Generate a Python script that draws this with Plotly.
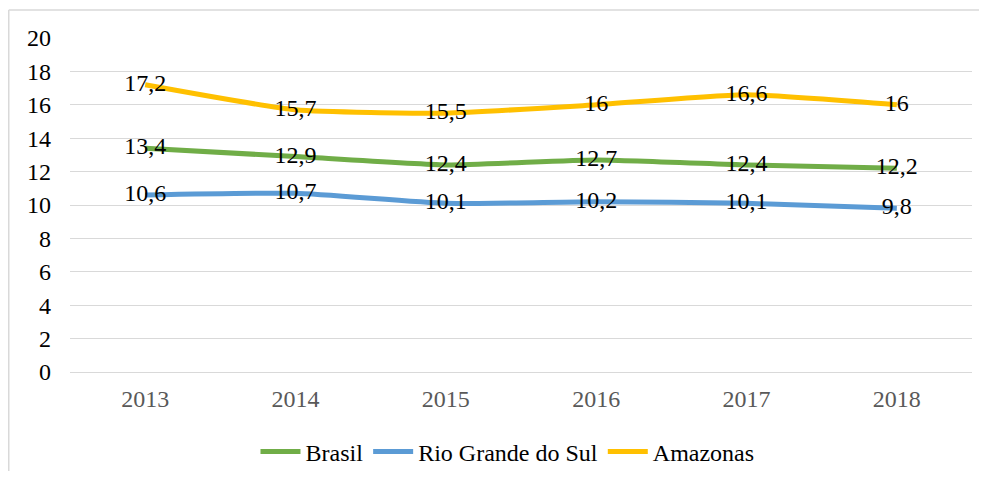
import plotly.graph_objects as go

years = ["2013", "2014", "2015", "2016", "2017", "2018"]
brasil = [13.4, 12.9, 12.4, 12.7, 12.4, 12.2]
rio_grande_do_sul = [10.6, 10.7, 10.1, 10.2, 10.1, 9.8]
amazonas = [17.2, 15.7, 15.5, 16.0, 16.6, 16.0]

SERIES = [
    ("Brasil", brasil, "#70AD47"),
    ("Rio Grande do Sul", rio_grande_do_sul, "#5B9BD5"),
    ("Amazonas", amazonas, "#FFC000"),
]
FONT = "Times New Roman, Liberation Serif, Tinos, serif"

# the page body adds an 8px margin, so the figure is 16px smaller than the window
W, H = 971, 463
L, T, R, B = 62, 30, 7, 99
PW, PH = W - L - R, H - T - B


def fmt(v):
    s = f"{v:.1f}".rstrip("0").rstrip(".")
    return s.replace(".", ",")


fig = go.Figure()
for name, values, color in SERIES:
    fig.add_trace(
        go.Scatter(
            x=years,
            y=values,
            name=name,
            mode="lines+text",
            line={"color": color, "width": 5, "shape": "spline", "smoothing": 0.5},
            text=[fmt(v) for v in values],
            textposition="middle center",
            textfont={"family": FONT, "size": 24, "color": "#000000"},
            cliponaxis=False,
        )
    )

fig.update_xaxes(
    range=[-0.5, 5.5],
    showgrid=False,
    showline=False,
    ticks="",
    tickfont={"family": FONT, "size": 24, "color": "#595959"},
    ticklabelstandoff=10,
)
fig.update_yaxes(
    range=[0, 20],
    dtick=2,
    gridcolor="#d9d9d9",
    gridwidth=1,
    zeroline=True,
    zerolinecolor="#d9d9d9",
    zerolinewidth=1,
    showline=False,
    tickfont={"family": FONT, "size": 24, "color": "#000000"},
    ticklabelstandoff=18,
)
# chart-area frame: only its left and top edges fall inside the picture
frame_left = -(L - 0.75) / PW
frame_top = (PH + T - 2) / PH
frame_style = {"color": "#d9d9d9", "width": 1.5}
fig.add_shape(type="line", xref="paper", yref="paper", layer="below",
              x0=frame_left, x1=(PW + R) / PW, y0=frame_top, y1=frame_top, line=frame_style)
fig.add_shape(type="line", xref="paper", yref="paper", layer="below",
              x0=frame_left, x1=frame_left, y0=-B / PH, y1=frame_top, line=frame_style)
fig.update_layout(
    width=W,
    height=H,
    autosize=False,
    font={"family": FONT},
    margin={"l": L, "r": R, "t": T, "b": B, "autoexpand": False},
    plot_bgcolor="white",
    paper_bgcolor="white",
    showlegend=True,
    legend={
        "orientation": "h",
        "xref": "container",
        "yref": "container",
        "x": 0.5144,
        "xanchor": "center",
        "y": 0.041,
        "yanchor": "middle",
        "font": {"family": FONT, "size": 24, "color": "#000000"},
        "itemwidth": 40,
        "tracegroupgap": 0,
    },
)

fig.write_html("out.html")
